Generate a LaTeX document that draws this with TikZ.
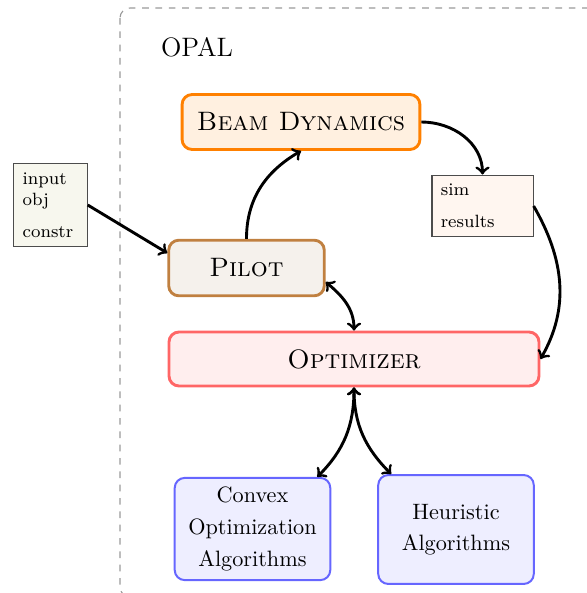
\documentclass[tikz,border=0pt]{standalone}
\usetikzlibrary{calc}
\definecolor{beamdraw}{HTML}{FF8000}
\definecolor{beamfill}{HTML}{FFF0E0}
\definecolor{pilotdraw}{HTML}{C08040}
\definecolor{pilotfill}{HTML}{F5F1EC}
\definecolor{optdraw}{HTML}{FF6666}
\definecolor{optfill}{HTML}{FFEEEE}
\definecolor{algdraw}{HTML}{6666FF}
\definecolor{algfill}{HTML}{EEEEFF}
\definecolor{inputfill}{HTML}{F7F7EE}
\definecolor{simfill}{HTML}{FFF6F0}
\definecolor{framegray}{HTML}{999999}
\begin{document}
\begin{tikzpicture}[x=0.45pt,y=-0.45pt,
  bigbox/.style={rounded corners=4.5pt, line width=1.3pt, inner sep=2pt, font=\large\scshape},
  algbox/.style={rounded corners=4.5pt, line width=0.9pt, align=center, inner sep=2pt, minimum width=70pt, font=\fontsize{10}{14.2}\selectfont},
  smallbox/.style={draw=black!70, line width=0.5pt, font=\fontsize{8}{9.5}\selectfont, align=left, inner sep=4pt},
  conn/.style={line width=1.3pt, ->},
  dconn/.style={line width=1.3pt, <->}]
\useasboundingbox (0,0) rectangle (587,593);
\begin{scope}
  \clip (0,0) rectangle (587,593);
  \draw[framegray, dashed, line width=0.5pt, rounded corners=4.5pt] (120,8) rectangle (597,597);
\end{scope}
\node[font=\large] (opal) at (197,47) {OPAL};
\node[bigbox, draw=beamdraw, fill=beamfill, minimum width=107pt, minimum height=24.75pt] (beam) at (301,122) {Beam Dynamics};
\node[bigbox, draw=pilotdraw, fill=pilotfill, minimum width=70pt, minimum height=25pt] (pilot) at (246.5,268) {Pilot};
\node[bigbox, draw=optdraw, fill=optfill, minimum width=166.5pt, minimum height=24.3pt] (opt) at (354,359) {Optimizer};
\node[algbox, draw=algdraw, fill=algfill, minimum height=46pt] (convex) at (252.5,529) {Convex\\Optimization\\Algorithms};
\node[algbox, draw=algdraw, fill=algfill, minimum height=49pt] (heur) at (456,529.5) {Heuristic\\Algorithms};
\node[smallbox, fill=inputfill, text width=25pt, minimum height=36pt] (input) at (50.5,205) {input\\obj\\[5pt]constr};
\node[smallbox, fill=simfill, text width=37.5pt, minimum height=27pt] (sim) at (482.5,206) {sim\\[5pt]results};
\draw[conn] (input.east) -- ([yshift=6.75pt]pilot.west);
\draw[conn] (pilot.north) to[out=90,in=-150] (beam.south);
\draw[conn] (beam.east) to[out=0,in=90] (sim.north);
\draw[conn] (sim.east) to[out=-60,in=60] (opt.east);
\draw[dconn] (pilot.-10) to[out=-40,in=90] (opt.north);
\draw[dconn] (opt.south) to[out=-90,in=45] ([xshift=-6.3pt]convex.north east);
\draw[dconn] (opt.south) to[out=-90,in=135] ([xshift=6.3pt]heur.north west);
\end{tikzpicture}
\end{document}
